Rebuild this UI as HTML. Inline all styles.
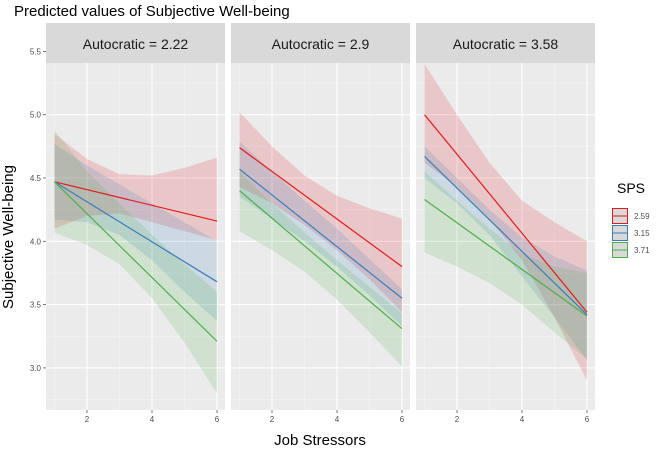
<!DOCTYPE html>
<html><head><meta charset="utf-8">
<style>
body{margin:0;background:#fff;}
svg{display:block;font-family:"Liberation Sans",Arial,sans-serif;}
</style></head>
<body>
<svg id="chart" width="669" height="452" viewBox="0 0 669 452"></svg>
<script>
const facets = ["Autocratic = 2.22","Autocratic = 2.9","Autocratic = 3.58"];
const groups = ["2.59","3.15","3.71"];
const colors = ["#e41a1c","#377eb8","#4daf4a"];
const xPts = [1,2,3,4,5,6];
const yTicks = [3.0,3.5,4.0,4.5,5.0,5.5];
const yTickLabels = ["3.0","3.5","4.0","4.5","5.0","5.5"];
const xTicks = [2,4,6];
// fitted line endpoints [x=1, x=6] per facet per group
const lineStart = [[4.47,4.47,4.47],[4.74,4.57,4.40],[5.00,4.67,4.33]];
const lineEnd   = [[4.16,3.68,3.21],[3.80,3.55,3.31],[3.44,3.42,3.41]];
// confidence ribbons at x = 1..6
const upper = [
 [[4.85,4.65,4.53,4.52,4.58,4.66],[4.77,4.60,4.45,4.30,4.15,4.00],[4.88,4.55,4.30,4.05,3.82,3.60]],
 [[5.02,4.75,4.52,4.36,4.26,4.18],[4.79,4.55,4.32,4.10,3.86,3.62],[4.55,4.30,4.07,3.85,3.64,3.43]],
 [[5.40,5.00,4.62,4.32,4.15,4.00],[4.75,4.50,4.25,4.03,3.88,3.77],[4.55,4.32,4.10,3.90,3.80,3.75]]
];
const lower = [
 [[4.10,4.20,4.22,4.15,4.08,4.01],[4.17,4.15,4.05,3.85,3.60,3.37],[4.07,3.97,3.82,3.55,3.20,2.80]],
 [[4.43,4.30,4.13,3.93,3.70,3.44],[4.35,4.18,4.00,3.80,3.57,3.33],[4.08,3.93,3.76,3.54,3.28,3.01]],
 [[4.62,4.43,4.18,3.85,3.40,2.90],[4.50,4.30,4.05,3.72,3.40,3.06],[3.91,3.80,3.67,3.50,3.28,3.07]]
];
const NS="http://www.w3.org/2000/svg";
const svg=document.getElementById('chart');
function mk(tag,attrs,parent){const e=document.createElementNS(NS,tag);for(const k in attrs)e.setAttribute(k,attrs[k]);(parent||svg).appendChild(e);return e;}
const panelLefts=[46,231,416], panelW=179, pTop=63, pBot=410;
function yS(v){return 114.7+(5-v)*126.6;}
function xS(p,v){return panelLefts[p]+8.5+(v-1)*32.5;}

let t=mk('text',{x:14,y:16,'font-size':15,fill:'#000'});t.textContent="Predicted values of Subjective Well-being";



facets.forEach((f,p)=>{
  const g=mk('g',{});
  
  
  const L=panelLefts[p];
  const strip=mk('rect',{x:L,y:23,width:panelW,height:40,fill:'#d9d9d9'},g);
  
  
  const st=mk('text',{x:L+panelW/2,y:49,'font-size':14,'text-anchor':'middle',fill:'#1a1a1a'},g);st.textContent=f;
  
  
  const bg=mk('rect',{x:L,y:pTop,width:panelW,height:pBot-pTop,fill:'#ebebeb'},g);
  
  
  // minor grid
  [2.75,3.25,3.75,4.25,4.75,5.25].forEach(v=>{const y=yS(v);if(y>pTop&&y<pBot)mk('line',{x1:L,x2:L+panelW,y1:y,y2:y,stroke:'#f5f5f5','stroke-width':0.6},g);});
  [1,3,5].forEach(v=>mk('line',{x1:xS(p,v),x2:xS(p,v),y1:pTop,y2:pBot,stroke:'#f5f5f5','stroke-width':0.6},g));
  yTicks.forEach(v=>{const y=yS(v);if(y>pTop&&y<pBot)mk('line',{x1:L,x2:L+panelW,y1:y,y2:y,stroke:'#fff','stroke-width':1.1},g);});
  xTicks.forEach(v=>{mk('line',{x1:xS(p,v),x2:xS(p,v),y1:pTop,y2:pBot,stroke:'#fff','stroke-width':1.1},g);
    mk('line',{x1:xS(p,v),x2:xS(p,v),y1:pBot,y2:pBot+3,stroke:'#555','stroke-width':0.8},g);
    const tl=mk('text',{x:xS(p,v),y:pBot+12,'font-size':8,'text-anchor':'middle',fill:'#4d4d4d'},g);tl.textContent=v;
    
    
  });
  const clipId='clip'+p;
  const cp=mk('clipPath',{id:clipId},g);mk('rect',{x:L,y:pTop,width:panelW,height:pBot-pTop},cp);
  groups.forEach((gr,k)=>{
    let d='M'+xPts.map((x,i)=>xS(p,x)+','+yS(upper[p][k][i])).join(' L');
    d+=' L'+xPts.slice().reverse().map((x,i)=>xS(p,x)+','+yS(lower[p][k][5-i])).join(' L')+'Z';
    const r=mk('path',{d:d,fill:colors[k],'fill-opacity':0.17,'clip-path':'url(#'+clipId+')'},g);
    
    
  });
  groups.forEach((gr,k)=>{
    const l=mk('line',{x1:xS(p,1),y1:yS(lineStart[p][k]),x2:xS(p,6),y2:yS(lineEnd[p][k]),stroke:colors[k],'stroke-width':1.2},g);
    
    
  });
});
yTicks.forEach((v,i)=>{
  const y=yS(v);
  mk('line',{x1:43,x2:46,y1:y,y2:y,stroke:'#555','stroke-width':0.8});
  const tl=mk('text',{x:41,y:y+3,'font-size':8,'text-anchor':'end',fill:'#4d4d4d'});tl.textContent=yTickLabels[i];
  
  
});
let yt=mk('text',{x:0,y:0,'font-size':15,'text-anchor':'middle',transform:'translate(13,237) rotate(-90)'});yt.textContent="Subjective Well-being";


let xt=mk('text',{x:320,y:445,'font-size':15,'text-anchor':'middle'});xt.textContent="Job Stressors";


const lg=mk('g',{});


let lt=mk('text',{x:631,y:193,'font-size':14,'text-anchor':'middle'},lg);lt.textContent="SPS";
groups.forEach((gr,k)=>{
  const y=208+k*17;
  const e=mk('g',{},lg);
  
  
  mk('rect',{x:612.5,y:y+0.5,width:15,height:15,fill:'#d9d9d9',stroke:colors[k],'stroke-width':1},e);
  mk('line',{x1:612.5,x2:627.5,y1:y+8,y2:y+8,stroke:colors[k],'stroke-width':1},e);
  const tx=mk('text',{x:634,y:y+11,'font-size':8,fill:'#4d4d4d'},e);tx.textContent=gr;
});
</script>
</body></html>
